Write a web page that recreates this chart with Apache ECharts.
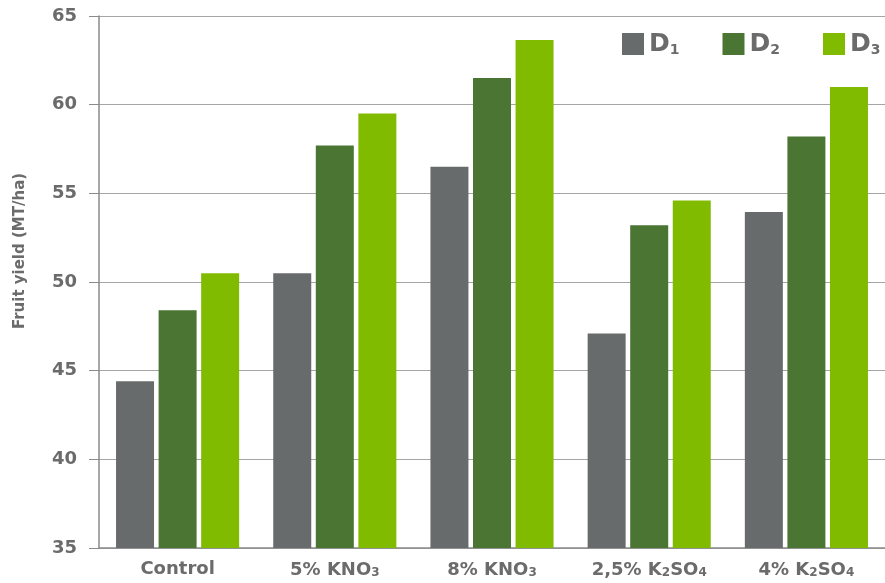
<!DOCTYPE html>
<html><head><meta charset="utf-8">
<script src="https://cdn.jsdelivr.net/npm/echarts@6/dist/echarts.min.js"></script>
<style>html,body{margin:0;padding:0;background:#fff}#c{width:885px;height:583px}</style>
</head><body><div id="c"></div>
<script>
const categories = ['Control', '5% KNO{s|3}', '8% KNO{s|3}', '2,5% K{s|2}SO{s|4}', '4% K{s|2}SO{s|4}'];
const seriesNames = ['D1', 'D2', 'D3'];
const d1 = [44.4, 50.5, 56.5, 47.1, 53.95];
const d2 = [48.4, 57.7, 61.5, 53.2, 58.2];
const d3 = [50.5, 59.5, 63.65, 54.6, 61.0];
const colors = ['#686b6b', '#4a7533', '#80bb00'];
const txt = '#6b6b6b';
const font = 'DejaVu Sans, sans-serif';

const chart = echarts.init(document.getElementById('c'));
chart.setOption({
  animation: false,
  grid: {left: 99, right: -1, top: 16, bottom: 35},
  graphic: [{
    type: 'text', x: 20, y: 251, rotation: Math.PI / 2,
    style: {text: 'Fruit yield (MT/ha)', fill: txt, font: 'bold 15px DejaVu Sans', textAlign: 'center', textVerticalAlign: 'middle'}
  }],
  legend: {
    left: 617, top: 27, width: 400, itemWidth: 22, itemHeight: 22, itemGap: 43,
    icon: 'rect',
    data: seriesNames,
    formatter: n => '{b|D}{s|' + n.slice(1) + '}',
    textStyle: {
      color: txt, fontFamily: font,
      rich: {
        b: {fontSize: 25, fontWeight: 'bold', color: txt, fontFamily: font, verticalAlign: 'bottom'},
        s: {fontSize: 14, fontWeight: 'bold', color: txt, fontFamily: font, padding: [12, 0, 0, 0], verticalAlign: 'bottom'}
      }
    }
  },
  xAxis: {
    type: 'category', data: categories,
    axisLine: {lineStyle: {color: '#8a8a8a', width: 1.5}},
    axisTick: {length: 6, lineStyle: {color: '#8a8a8a'}},
    axisLabel: {
      interval: 0, margin: 12, color: txt, fontFamily: font, fontSize: 18, fontWeight: 'bold',
      formatter: v => '{b|' + v.replace(/\{s\|(\d)\}/g, '}{s|$1}{b|') + '}',
      rich: {
        b: {fontSize: 18, fontWeight: 'bold', color: txt, fontFamily: font, verticalAlign: 'bottom'},
        s: {fontSize: 12, fontWeight: 'bold', color: txt, fontFamily: font, padding: [7, 0, 0, 0], verticalAlign: 'bottom'}
      }
    }
  },
  yAxis: {
    type: 'value', min: 35, max: 65, interval: 5,
    axisLine: {show: true, lineStyle: {color: '#8a8a8a', width: 1.5}},
    axisTick: {show: true, length: 10, lineStyle: {color: '#8a8a8a'}},
    axisLabel: {margin: 22, color: txt, fontFamily: font, fontSize: 18, fontWeight: 'bold'},
    splitLine: {lineStyle: {color: '#a5a5a5', width: 1}}
  },
  series: [d1, d2, d3].map((d, i) => ({
    name: seriesNames[i], type: 'bar', data: d,
    barWidth: 38, barGap: '12%',
    itemStyle: {color: colors[i]}
  }))
});
</script></body></html>
